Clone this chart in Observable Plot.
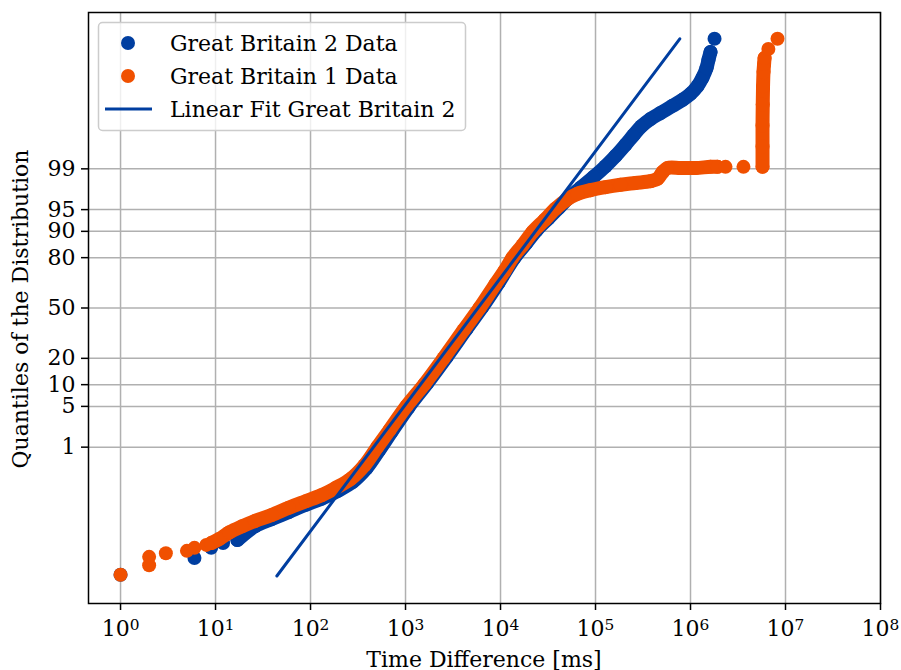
<!DOCTYPE html>
<html><head><meta charset="utf-8">
<script src="https://cdn.jsdelivr.net/npm/d3@7"></script>
<script src="https://cdn.jsdelivr.net/npm/@observablehq/plot@0.6"></script>
<style>body{margin:0;background:#fff} svg{display:block}</style>
</head><body><div id="chart"></div>
<script>
// ---------- data (x: time difference in ms, q: standard-normal quantile) ----------
const xTicks = [1, 10, 100, 1e3, 1e4, 1e5, 1e6, 1e7, 1e8];
const yTickLabels = [1, 5, 10, 20, 50, 80, 90, 95, 99];

// Great Britain 1 (orange)
const gb1LowX = [1, 2, 2, 3, 5, 6, 8];
const gb1LowQ = [-4.46, -4.30, -4.16, -4.10, -4.06, -4.01, -3.96];
const gb1BandX = [9, 11, 14, 19, 26, 39, 59, 89, 130, 183, 264, 370, 507, 679, 1025, 1585, 2512, 4080, 6010, 8850, 11020, 13370, 17060, 21730, 29040, 37930, 49550, 64700, 88540, 127400, 183300, 263700, 379400, 449800, 507500, 572700, 785000, 1130000, 1625000, 1920000];
const gb1BandQ = [-3.93, -3.86, -3.75, -3.65, -3.56, -3.46, -3.34, -3.23, -3.13, -3.01, -2.86, -2.63, -2.32, -2.04, -1.64, -1.27, -0.84, -0.37, 0.00, 0.40, 0.62, 0.84, 1.05, 1.27, 1.47, 1.66, 1.81, 1.91, 1.97, 2.02, 2.06, 2.09, 2.12, 2.16, 2.27, 2.34, 2.34, 2.34, 2.36, 2.36];
const gb1TailX = [2336000, 3610000];
const gb1TailQ = [2.36, 2.36];
const gb1SpikeX = [5730000, 5730000, 5730000, 5760000, 5800000, 5870000, 5950000, 6020000];
const gb1SpikeQ = [2.36, 2.70, 3.05, 3.40, 3.70, 3.95, 4.08, 4.18];
const gb1TopX = [6600000, 8240000];
const gb1TopQ = [4.33, 4.50];

// Great Britain 2 (blue)
const gb2LowX = [1, 6, 9, 12];
const gb2LowQ = [-4.46, -4.18, -4.01, -3.93];
const gb2BandX = [17, 26, 39, 59, 89, 130, 192, 277, 388, 532, 713, 1076, 1706, 2703, 4385, 6466, 9525, 14040, 18790, 23930, 31980, 40810, 52000, 69500, 95300, 127400, 162400, 207000, 251200, 304800, 379400, 483300, 647000, 824000, 1000000, 1185000, 1337000, 1473000, 1546000, 1624000];
const gb2BandQ = [-3.88, -3.65, -3.53, -3.41, -3.29, -3.19, -3.06, -2.91, -2.68, -2.37, -2.07, -1.66, -1.25, -0.82, -0.35, 0.02, 0.42, 0.84, 1.09, 1.30, 1.50, 1.67, 1.84, 2.01, 2.19, 2.37, 2.54, 2.73, 2.89, 3.04, 3.16, 3.26, 3.38, 3.48, 3.58, 3.71, 3.85, 4.01, 4.15, 4.28];
const gb2TopX = [1790000];
const gb2TopQ = [4.50];

// Linear fit Great Britain 2
const fitX = [44.2, 771000];
const fitQ = [-4.48, 4.50];

const seriesNames = ["Great Britain 2 Data", "Great Britain 1 Data", "Linear Fit Great Britain 2"];

// ---------- helpers ----------
const BLUE = "#003ea0", ORANGE = "#f05000";
const FS = "22px";
function probit(p) {
  const a = [-3.969683028665376e+01, 2.209460984245205e+02, -2.759285104469687e+02, 1.383577518672690e+02, -3.066479806614716e+01, 2.506628277459239e+00];
  const b = [-5.447609879822406e+01, 1.615858368580409e+02, -1.556989798598866e+02, 6.680131188771972e+01, -1.328068155288572e+01];
  const c = [-7.784894002430293e-03, -3.223964580411365e-01, -2.400758277161838e+00, -2.549732539343734e+00, 4.374664141464968e+00, 2.938163982698783e+00];
  const d = [7.784695709041462e-03, 3.224671290700398e-01, 2.445134137142996e+00, 3.754408661907416e+00];
  const pl = 0.02425;
  let q, r;
  if (p < pl) {
    q = Math.sqrt(-2 * Math.log(p));
    return (((((c[0]*q+c[1])*q+c[2])*q+c[3])*q+c[4])*q+c[5]) / ((((d[0]*q+d[1])*q+d[2])*q+d[3])*q+1);
  } else if (p <= 1 - pl) {
    q = p - 0.5; r = q*q;
    return (((((a[0]*r+a[1])*r+a[2])*r+a[3])*r+a[4])*r+a[5])*q / (((((b[0]*r+b[1])*r+b[2])*r+b[3])*r+b[4])*r+1);
  } else {
    q = Math.sqrt(-2 * Math.log(1 - p));
    return -(((((c[0]*q+c[1])*q+c[2])*q+c[3])*q+c[4])*q+c[5]) / ((((d[0]*q+d[1])*q+d[2])*q+d[3])*q+1);
  }
}
const yTickPos = yTickLabels.map(p => probit(p / 100));
const rows = (xs, qs) => xs.map((x, i) => ({x, q: qs[i]}));

const gb1Band = rows(gb1BandX, gb1BandQ);
const gb1Spike = rows(gb1SpikeX, gb1SpikeQ);
const gb1All = [...rows(gb1LowX, gb1LowQ), ...gb1Band, ...rows(gb1TailX, gb1TailQ), ...gb1Spike, ...rows(gb1TopX, gb1TopQ)];
const gb2Band = rows(gb2BandX, gb2BandQ);
const gb2All = [...rows(gb2LowX, gb2LowQ), ...gb2Band, ...rows(gb2TopX, gb2TopQ)];
const fit = rows(fitX, fitQ);

const R = 7;
const bandOpts = (color) => ({x: "x", y: "q", stroke: color, strokeWidth: 2 * R, strokeLinecap: "round", strokeLinejoin: "round", curve: "catmull-rom"});

const plot = Plot.plot({
  width: 901, height: 670,
  marginLeft: 88, marginRight: 21, marginTop: 12, marginBottom: 67,
  style: {fontFamily: "'DejaVu Serif', serif", fontSize: FS, background: "#fff", color: "#000", overflow: "visible"},
  x: {type: "log", domain: [0.46, 1e8], label: null},
  y: {domain: [-4.94, 4.94], label: null},
  marks: [
    Plot.gridX(xTicks, {stroke: "#b0b0b0", strokeOpacity: 1, strokeWidth: 1.5}),
    Plot.gridY(yTickPos, {stroke: "#b0b0b0", strokeOpacity: 1, strokeWidth: 1.5}),
    Plot.axisX(xTicks, {tickSize: 7, tickPadding: 10, strokeWidth: 1.5, label: null,
      tickFormat: d => String(Math.round(Math.log10(d)))}),
    Plot.axisY(yTickPos, {tickSize: 7, tickPadding: 6, strokeWidth: 1.5, label: null,
      tickFormat: d => String(yTickLabels[d3.minIndex(yTickPos, t => Math.abs(t - d))])}),
    Plot.line(gb2Band, bandOpts(BLUE)),
    Plot.dot(gb2All, {x: "x", y: "q", r: R, fill: BLUE}),
    Plot.line(gb1Band, bandOpts(ORANGE)),
    Plot.line(gb1Spike, bandOpts(ORANGE)),
    Plot.dot(gb1All, {x: "x", y: "q", r: R, fill: ORANGE}),
    Plot.line(fit, {x: "x", y: "q", stroke: BLUE, strokeWidth: 3}),
    Plot.frame({stroke: "#000", strokeWidth: 1.5})
  ]
});

document.getElementById("chart").appendChild(plot);
const svg = d3.select(plot);

// superscript exponents on the x tick labels
svg.selectAll('g[aria-label="x-axis tick label"] text').each(function () {
  const e = this.textContent;
  const t = d3.select(this);
  t.text("10");
  t.append("tspan").attr("dy", "-0.42em").attr("font-size", "0.7em").text(e);
});

// axis titles
svg.append("text").attr("x", 484).attr("y", 667).attr("text-anchor", "middle")
  .attr("font-size", FS).text("Time Difference [ms]");
svg.append("text").attr("transform", "translate(28,309) rotate(-90)").attr("text-anchor", "middle")
  .attr("font-size", FS).text("Quantiles of the Distribution");

// legend
const lg = svg.append("g");
lg.append("rect").attr("x", 98.5).attr("y", 22.5).attr("width", 367).attr("height", 108).attr("rx", 4)
  .attr("fill", "#fff").attr("fill-opacity", 0.8).attr("stroke", "#cccccc").attr("stroke-width", 1.5);
const ly = [43, 76, 109];
lg.append("circle").attr("cx", 128).attr("cy", ly[0]).attr("r", R).attr("fill", BLUE);
lg.append("circle").attr("cx", 128).attr("cy", ly[1]).attr("r", R).attr("fill", ORANGE);
lg.append("line").attr("x1", 105).attr("x2", 152).attr("y1", ly[2]).attr("y2", ly[2]).attr("stroke", BLUE).attr("stroke-width", 3);
seriesNames.forEach((s, i) => {
  lg.append("text").attr("x", 170).attr("y", ly[i]).attr("dy", "0.36em").attr("text-anchor", "start")
    .attr("font-size", FS).text(s);
});
</script>
</body></html>
